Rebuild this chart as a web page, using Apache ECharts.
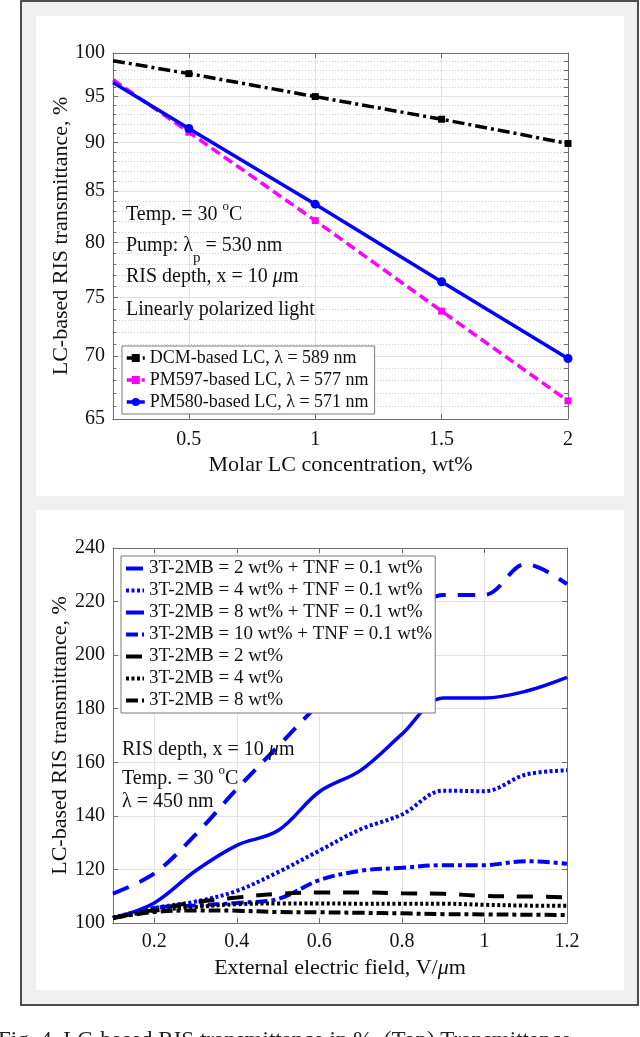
<!DOCTYPE html>
<html>
<head>
<meta charset="utf-8">
<script src="https://cdn.jsdelivr.net/npm/echarts@6/dist/echarts.min.js"></script>
<style>
html, body { margin: 0; padding: 0; background: #fff; }
#main { width: 640px; height: 1037px; }
</style>
</head>
<body>
<div id="main"></div>
<script>
// top panel: transmittance vs molar LC concentration (log y axis)
var concX = [0.2, 0.5, 1, 1.5, 2];
var dcmT = [99.1, 97.6, 95.0, 92.5, 89.9];
var pm597T = [96.9, 91.1, 82.1, 73.8, 66.4];
var pm580T = [96.6, 91.5, 83.7, 76.4, 69.8];
var topNames = ['DCM-based LC, λ = 589 nm', 'PM597-based LC, λ = 577 nm', 'PM580-based LC, λ = 571 nm'];
var topXTicks = [0.5, 1, 1.5, 2];
var topYTicks = [65, 70, 75, 80, 85, 90, 95, 100];
var topYMinor = [66, 67, 68, 69, 71, 72, 73, 74, 76, 77, 78, 79, 81, 82, 83, 84, 86, 87, 88, 89, 91, 92, 93, 94, 96, 97, 98, 99];

// bottom panel: transmittance vs external electric field
var fieldX = [0.1, 0.2, 0.3, 0.4, 0.5, 0.6, 0.7, 0.8, 0.9, 1.0, 1.1, 1.2];
var tnf2 = [111, 118.5, 133, 150, 166, 182, 197, 211, 222.5, 222.5, 234, 226.5];
var tnf4 = [102, 105.6, 108, 112, 119, 127, 135, 140.5, 149.4, 149.2, 155.4, 157];
var tnf8 = [101.8, 107.5, 119.5, 129, 134.5, 149, 157, 170.5, 184, 184, 186.5, 191.7];
var tnf10 = [101.8, 105.6, 106.5, 107.5, 109, 116, 119.5, 120.6, 121.6, 121.6, 123.1, 122.1];
var mb2 = [101.9, 104.9, 107.8, 109.5, 110.9, 111.4, 111.4, 111.1, 110.9, 110.1, 109.9, 109.6];
var mb4 = [101.9, 104.6, 106.0, 107.0, 107.3, 107.3, 107.2, 107.2, 107.2, 106.8, 106.5, 106.4];
var mb8 = [101.9, 104.1, 104.7, 104.6, 104.1, 104.0, 103.8, 103.6, 103.3, 103.2, 103.1, 103.0];
var botNames = [
  '3T-2MB = 2 wt% + TNF = 0.1 wt%',
  '3T-2MB = 4 wt% + TNF = 0.1 wt%',
  '3T-2MB = 8 wt% + TNF = 0.1 wt%',
  '3T-2MB = 10 wt% + TNF = 0.1 wt%',
  '3T-2MB = 2 wt%',
  '3T-2MB = 4 wt%',
  '3T-2MB = 8 wt%'
];
var botXTicks = [0.2, 0.4, 0.6, 0.8, 1, 1.2];

var serif = 'Liberation Serif';
var axisGray = '#6e6e6e';
var gridGray = '#e2e2e2';
var blue = '#0000ff';

function pairs(xs, ys, hideFirst) {
  return xs.map(function (x, i) {
    var item = { value: [x, ys[i]] };
    if (hideFirst && i === 0) item.symbol = 'none';
    return item;
  });
}

function mainX(grid, min, max, ticks, name, gap, margin) {
  return {
    type: 'value', gridIndex: grid, min: min, max: max, position: 'bottom',
    name: name, nameLocation: 'middle', nameGap: gap,
    nameTextStyle: { fontFamily: serif, fontSize: 22, color: '#111', rich: { i: { fontStyle: 'italic', fontFamily: serif, fontSize: 22, color: '#111' } } },
    axisLine: { show: true, onZero: false, lineStyle: { color: axisGray } },
    axisTick: { show: true, inside: true, length: 5, customValues: ticks, lineStyle: { color: axisGray } },
    axisLabel: { customValues: ticks, margin: margin, fontFamily: serif, fontSize: 20, color: '#111' },
    splitLine: { show: true, lineStyle: { color: gridGray, width: 1 } }
  };
}

function mirrorX(grid, min, max, ticks) {
  return {
    type: 'value', gridIndex: grid, min: min, max: max, position: 'top',
    axisLine: { show: true, onZero: false, lineStyle: { color: axisGray } },
    axisTick: { show: true, inside: true, length: 5, customValues: ticks, lineStyle: { color: axisGray } },
    axisLabel: { show: false },
    splitLine: { show: false }
  };
}

function botLine(i, ys, color, width, dash) {
  return {
    name: botNames[i], type: 'line', xAxisIndex: 2, yAxisIndex: 3,
    data: pairs(fieldX, ys), symbol: 'none', smooth: 0.35,
    lineStyle: { color: color, width: width, type: dash }, itemStyle: { color: color }
  };
}

var yName = 'LC-based RIS transmittance, %';

var option = {
  animation: false,
  backgroundColor: '#fff',
  grid: [
    { left: 113, top: 53, width: 455, height: 366 },
    { left: 113, top: 548, width: 454, height: 375 }
  ],
  xAxis: [
    mainX(0, 0.2, 2, topXTicks, 'Molar LC concentration, wt%', 35, 11),
    mirrorX(0, 0.2, 2, topXTicks),
    mainX(1, 0.1, 1.2, botXTicks, 'External electric field, V/{i|μ}m', 34, 9),
    mirrorX(1, 0.1, 1.2, botXTicks)
  ],
  yAxis: [
    {
      type: 'log', logBase: 10, gridIndex: 0, min: 65, max: 100, position: 'left',
      name: yName, nameLocation: 'middle', nameGap: 41, nameMoveOverlap: false,
      nameTextStyle: { fontFamily: serif, fontSize: 22, color: '#111' },
      axisLine: { show: true, lineStyle: { color: axisGray } },
      axisTick: { show: true, inside: true, length: 5, customValues: topYTicks, lineStyle: { color: axisGray } },
      axisLabel: { customValues: topYTicks, margin: 8, fontFamily: serif, fontSize: 20, color: '#111' },
      splitLine: { show: true, lineStyle: { color: gridGray, width: 1 } }
    },
    {
      // minor dotted grid
      type: 'log', logBase: 10, gridIndex: 0, min: 65, max: 100, position: 'left',
      axisLine: { show: false },
      axisTick: { show: true, inside: true, length: 3, customValues: topYMinor, lineStyle: { color: axisGray } },
      axisLabel: { show: false },
      splitLine: { show: true, lineStyle: { color: '#cfcfcf', width: 1, type: [1, 2] } }
    },
    {
      type: 'log', logBase: 10, gridIndex: 0, min: 65, max: 100, position: 'right',
      axisLine: { show: true, lineStyle: { color: axisGray } },
      axisTick: { show: true, inside: true, length: 4, customValues: topYTicks.concat(topYMinor), lineStyle: { color: axisGray } },
      axisLabel: { show: false },
      splitLine: { show: false }
    },
    {
      type: 'value', gridIndex: 1, min: 100, max: 240, interval: 20, position: 'left',
      name: yName, nameLocation: 'middle', nameGap: 42, nameMoveOverlap: false,
      nameTextStyle: { fontFamily: serif, fontSize: 22, color: '#111' },
      axisLine: { show: true, lineStyle: { color: axisGray } },
      axisTick: { show: true, inside: true, length: 5, lineStyle: { color: axisGray } },
      axisLabel: { margin: 8, fontFamily: serif, fontSize: 20, color: '#111' },
      splitLine: { show: true, lineStyle: { color: gridGray, width: 1 } }
    },
    {
      type: 'value', gridIndex: 1, min: 100, max: 240, interval: 20, position: 'right',
      axisLine: { show: true, lineStyle: { color: axisGray } },
      axisTick: { show: true, inside: true, length: 5, lineStyle: { color: axisGray } },
      axisLabel: { show: false },
      splitLine: { show: false }
    }
  ],
  legend: [
    {
      data: topNames, orient: 'vertical', left: 122, top: 346,
      padding: [3, 6, 3, 3], itemGap: 4, itemWidth: 18, itemHeight: 10,
      backgroundColor: '#fff', borderColor: '#7a7a7a', borderWidth: 1,
      lineStyle: { width: 3.5 },
      textStyle: { fontFamily: serif, fontSize: 18, color: '#111' }
    },
    {
      data: botNames, orient: 'vertical', left: 121, top: 556,
      padding: [3, 3, 3, 3], itemGap: 3, itemWidth: 18, itemHeight: 10,
      backgroundColor: '#fff', borderColor: '#7a7a7a', borderWidth: 1,
      itemStyle: { opacity: 0 }, lineStyle: { width: 4 },
      textStyle: { fontFamily: serif, fontSize: 19, color: '#111' }
    }
  ],
  series: [
    {
      name: topNames[0], type: 'line', xAxisIndex: 0, yAxisIndex: 0,
      data: pairs(concX, dcmT, true), symbol: 'rect', symbolSize: 7, z: 3,
      lineStyle: { color: '#000', width: 3.5, type: [12, 4, 3, 4] }, itemStyle: { color: '#000' }
    },
    {
      name: topNames[1], type: 'line', xAxisIndex: 0, yAxisIndex: 0,
      data: pairs(concX, pm597T, true), symbol: 'rect', symbolSize: 7, z: 3,
      lineStyle: { color: '#ff00ff', width: 3.5, type: [10, 5] }, itemStyle: { color: '#ff00ff' }
    },
    {
      name: topNames[2], type: 'line', xAxisIndex: 0, yAxisIndex: 0,
      data: pairs(concX, pm580T, true), symbol: 'circle', symbolSize: 9, z: 4,
      lineStyle: { color: blue, width: 3.5 }, itemStyle: { color: blue }
    },
    botLine(0, tnf2, blue, 4, [17, 12]),
    botLine(1, tnf4, blue, 4, [3, 2.5]),
    botLine(2, tnf8, blue, 3.5, 'solid'),
    botLine(3, tnf10, blue, 4, [12, 4, 4, 4]),
    botLine(4, mb2, '#000', 4, [16, 13]),
    botLine(5, mb4, '#000', 4, [3, 2.5]),
    botLine(6, mb8, '#000', 4, [12, 4, 4, 4])
  ],
  graphic: [
    // figure frame and the two white panels
    { type: 'rect', z: -100, shape: { x: 21, y: 1, width: 617, height: 1004 }, style: { fill: '#f0f0f0', stroke: '#4d4d4d', lineWidth: 2 } },
    { type: 'rect', z: -99, shape: { x: 36, y: 16, width: 588, height: 480 }, style: { fill: '#fff' } },
    { type: 'rect', z: -99, shape: { x: 36, y: 510, width: 588, height: 480 }, style: { fill: '#fff' } },
    // top panel notes
    { type: 'text', z: 10, x: 126, y: 215, style: { text: 'Temp. = 30 {sup|o}C', fontFamily: serif, fontSize: 20, fill: '#111', verticalAlign: 'middle', lineHeight: 30,
      rich: { sup: { fontFamily: serif, fontSize: 13, lineHeight: 13, verticalAlign: 'top', fill: '#111' } } } },
    { type: 'text', z: 10, x: 126, y: 246, style: { text: 'Pump: λ{sub|p} = 530 nm', fontFamily: serif, fontSize: 20, fill: '#111', verticalAlign: 'middle', lineHeight: 40,
      rich: { sub: { fontFamily: serif, fontSize: 15, lineHeight: 15, verticalAlign: 'bottom', fill: '#111' } } } },
    { type: 'text', z: 10, x: 126, y: 277, style: { text: 'RIS depth, x = 10 {i|μ}m', fontFamily: serif, fontSize: 20, fill: '#111', verticalAlign: 'middle',
      rich: { i: { fontFamily: serif, fontSize: 20, fontStyle: 'italic', fill: '#111' } } } },
    { type: 'text', z: 10, x: 126, y: 310, style: { text: 'Linearly polarized light', fontFamily: serif, fontSize: 20, fill: '#111', verticalAlign: 'middle' } },
    // bottom panel notes
    { type: 'text', z: 10, x: 122, y: 750, style: { text: 'RIS depth, x = 10 {i|μ}m', fontFamily: serif, fontSize: 20, fill: '#111', verticalAlign: 'middle',
      rich: { i: { fontFamily: serif, fontSize: 20, fontStyle: 'italic', fill: '#111' } } } },
    { type: 'text', z: 10, x: 122, y: 779, style: { text: 'Temp. = 30 {sup|o}C', fontFamily: serif, fontSize: 20, fill: '#111', verticalAlign: 'middle', lineHeight: 30,
      rich: { sup: { fontFamily: serif, fontSize: 13, lineHeight: 13, verticalAlign: 'top', fill: '#111' } } } },
    { type: 'text', z: 10, x: 122, y: 802, style: { text: 'λ = 450 nm', fontFamily: serif, fontSize: 20, fill: '#111', verticalAlign: 'middle' } },
    // caption, cut by the page edge
    { type: 'text', z: 10, x: -2, y: 1029, style: { text: 'Fig. 4. LC-based RIS transmittance in %. (Top) Transmittance', fontFamily: serif, fontSize: 23, fill: '#222' } }
  ]
};

var myChart = echarts.init(document.getElementById('main'));
myChart.setOption(option);
</script>
</body>
</html>
